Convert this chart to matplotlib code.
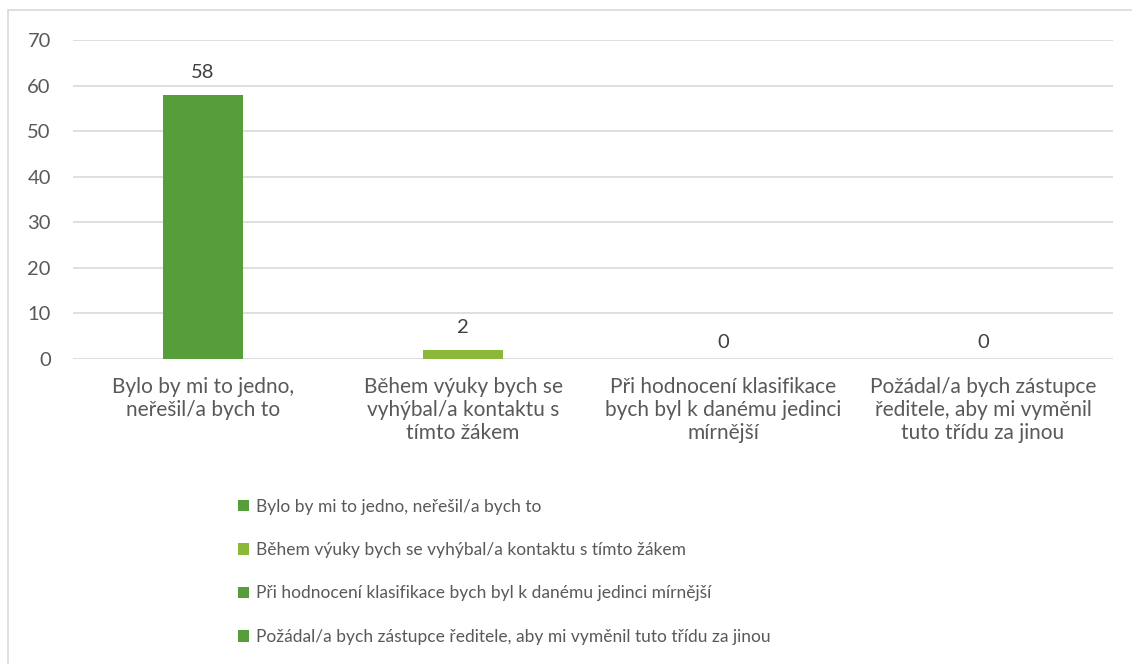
import matplotlib.pyplot as plt
from matplotlib.patches import Rectangle

plt.rcParams['font.family'] = ['Lato', 'DejaVu Sans']

categories = [
    "Bylo by mi to jedno, neřešil/a bych to",
    "Během výuky bych se vyhýbal/a kontaktu s tímto žákem",
    "Při hodnocení klasifikace bych byl k danému jedinci mírnější",
    "Požádal/a bych zástupce ředitele, aby mi vyměnil tuto třídu za jinou",
]
tick_labels = [
    "Bylo by mi to jedno,\nneřešil/a bych to",
    "Během výuky bych se\nvyhýbal/a kontaktu s\ntímto žákem",
    "Při hodnocení klasifikace\nbych byl k danému jedinci\nmírnější",
    "Požádal/a bych zástupce\nředitele, aby mi vyměnil\ntuto třídu za jinou",
]
values = [58, 2, 0, 0]
colors = ["#559E3A", "#8CB83A", "#559E3A", "#559E3A"]

text_col = "#595959"
W, H = 1132, 664
fig = plt.figure(figsize=(W / 100, H / 100), dpi=100)
ax = fig.add_axes([73 / W, 1 - 359 / H, (1113 - 73) / W, (359 - 40) / H])

x = list(range(len(categories)))
bars = ax.bar(x, values, width=0.31, color=colors, zorder=2)
for xi, v in zip(x, values):
    # Excel sets zero-value labels a bit lower
    off = 10 if v else 6
    ax.annotate(str(v), (xi, v), xytext=(0, off), textcoords='offset points',
                ha='center', va='bottom', fontsize=14.5, color="#404040")

ax.set_xlim(-0.5, len(categories) - 0.5)
ax.set_ylim(0, 70)
ax.set_yticks(range(0, 71, 10))
ax.set_xticks(x)
ax.set_xticklabels(tick_labels, color=text_col, linespacing=1.2)
ax.tick_params(axis='both', length=0, colors=text_col, labelsize=14.5)
ax.tick_params(axis='x', pad=13, labelsize=15)
ax.tick_params(axis='y', pad=16)
ax.grid(axis='y', color="#D9D9D9", linewidth=1.2, zorder=0)
for s in ax.spines.values():
    s.set_visible(False)

# chart border (cropped at right and bottom)
fig.patches.append(Rectangle((8 / W, -0.1), 1.2, 1 - 10 / H + 0.1, transform=fig.transFigure,
                             fill=False, edgecolor="#D9D9D9", linewidth=1.2))

leg = fig.legend(bars, categories, loc='upper left', bbox_to_anchor=(222 / W, 1 - 483 / H),
                 frameon=False, fontsize=12.5, handlelength=0.65, handleheight=0.65,
                 handletextpad=0.4, labelspacing=1.58, labelcolor=text_col)

fig.savefig("out.png", dpi=100)
